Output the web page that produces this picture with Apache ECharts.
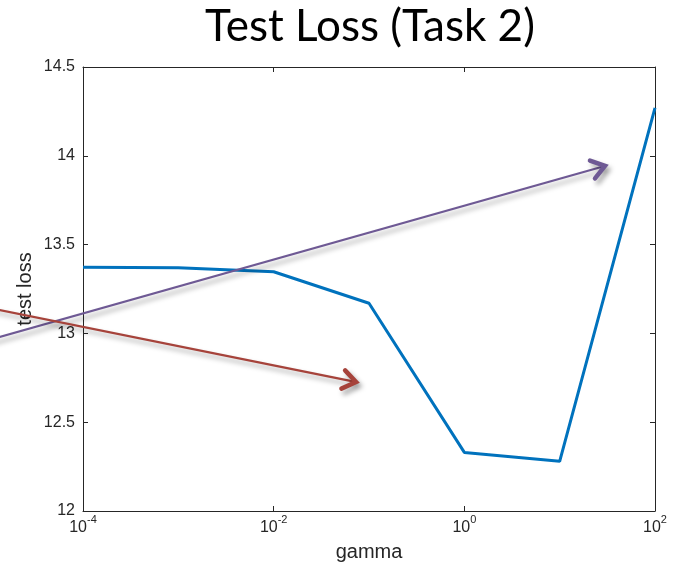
<!DOCTYPE html>
<html>
<head>
<meta charset="utf-8">
<script src="https://cdn.jsdelivr.net/npm/echarts@6/dist/echarts.min.js"></script>
<style>html,body{margin:0;padding:0;background:#fff;}#chart{width:679px;height:562px;}</style>
</head>
<body>
<div id="chart"></div>
<script>
// ---- data ----
const gammaValues = [1e-4, 1e-3, 1e-2, 1e-1, 1, 10, 100];
const testLoss = [13.372, 13.37, 13.347, 13.17, 12.33, 12.28, 14.27];
const xTickExponents = [-4, -2, 0, 2];
const yTicks = [12, 12.5, 13, 13.5, 14, 14.5];
// annotation arrows in data coordinates: [gamma, loss] start -> end
const purpleArrow = [8.3e-6, 12.948, 29.9, 13.943];
const redArrow = [8.3e-6, 13.154, 0.0731, 12.726];

const chart = echarts.init(document.getElementById('chart'));
const axisColor = '#262626';
const tickFont = 'Liberation Sans, Arial, sans-serif';

function arrowSeries(arr, color) {
  return {
    type: 'custom',
    coordinateSystem: 'cartesian2d',
    xAxisIndex: 0, yAxisIndex: 0,
    clip: false,
    silent: true,
    z: 5,
    encode: { x: [0, 2], y: [1, 3] },
    data: [arr],
    renderItem: function (params, api) {
      const p1 = api.coord([api.value(0), api.value(1)]);
      const p2 = api.coord([api.value(2), api.value(3)]);
      const ang = Math.atan2(p2[1] - p1[1], p2[0] - p1[0]);
      const L = 16, spread = 0.62;
      const a1 = [p2[0] - L * Math.cos(ang - spread), p2[1] - L * Math.sin(ang - spread)];
      const a2 = [p2[0] - L * Math.cos(ang + spread), p2[1] - L * Math.sin(ang + spread)];
      const shaftEnd = [p2[0] - 2 * Math.cos(ang), p2[1] - 2 * Math.sin(ang)];
      const shadow = { shadowBlur: 5, shadowOffsetX: 3, shadowOffsetY: 4, shadowColor: 'rgba(0,0,0,0.35)' };
      return {
        type: 'group',
        children: [
          { type: 'line', shape: { x1: p1[0], y1: p1[1], x2: shaftEnd[0], y2: shaftEnd[1] },
            style: Object.assign({ stroke: color, lineWidth: 2.2, fill: null }, shadow) },
          { type: 'polyline', shape: { points: [a1, p2, a2] },
            style: Object.assign({ stroke: color, lineWidth: 4.5, fill: null, lineCap: 'round', lineJoin: 'miter' }, shadow) }
        ]
      };
    }
  };
}

const xLabelRich = {
  b: { fontSize: 16, lineHeight: 16, fontFamily: tickFont, color: '#262626' },
  s: { fontSize: 11, lineHeight: 11, fontFamily: tickFont, color: '#262626', padding: [0, 0, 17, 0] }
};

const option = {
  backgroundColor: '#ffffff',
  animation: false,
  title: {
    text: 'Test Loss (Task 2)',
    left: 365, top: 0, textAlign: 'center',
    textStyle: { fontFamily: 'Lato, Open Sans, sans-serif', fontSize: 44, fontWeight: 'normal', color: '#000' }
  },
  grid: { left: 83, right: 24, top: 67, bottom: 51, containLabel: false, outerBoundsMode: 'none' },
  xAxis: [
    {
      type: 'log', logBase: 10, min: 1e-4, max: 100, interval: 2,
      position: 'bottom',
      name: 'gamma', nameLocation: 'middle', nameGap: 31, nameMoveOverlap: false,
      nameTextStyle: { fontFamily: tickFont, fontSize: 20, color: '#262626', verticalAlign: 'top' },
      axisLine: { show: true, lineStyle: { color: axisColor, width: 1 } },
      axisTick: { show: true, inside: true, length: 5, lineStyle: { color: axisColor } },
      minorTick: { show: false },
      splitLine: { show: false },
      axisLabel: {
        margin: 9,
        formatter: function (v) {
          const e = Math.round(Math.log10(v));
          return xTickExponents.indexOf(e) >= 0 ? '{b|10}{s|' + e + '}' : '';
        },
        rich: xLabelRich
      }
    },
    {
      type: 'log', logBase: 10, min: 1e-4, max: 100, interval: 2,
      position: 'top',
      axisLine: { show: true, lineStyle: { color: axisColor, width: 1 } },
      axisTick: { show: true, inside: true, length: 5, lineStyle: { color: axisColor } },
      axisLabel: { show: false },
      splitLine: { show: false }
    }
  ],
  yAxis: [
    {
      type: 'value', min: yTicks[0], max: yTicks[yTicks.length - 1], interval: 0.5,
      position: 'left',
      name: 'test loss', nameLocation: 'middle', nameGap: 48, nameRotate: 90, nameMoveOverlap: false,
      nameTextStyle: { fontFamily: tickFont, fontSize: 20, color: '#262626' },
      axisLine: { show: true, lineStyle: { color: axisColor, width: 1 } },
      axisTick: { show: true, inside: true, length: 5, lineStyle: { color: axisColor } },
      splitLine: { show: false },
      axisLabel: { margin: 8, fontFamily: tickFont, fontSize: 16, color: '#262626' }
    },
    {
      type: 'value', min: yTicks[0], max: yTicks[yTicks.length - 1], interval: 0.5,
      position: 'right',
      axisLine: { show: true, lineStyle: { color: axisColor, width: 1 } },
      axisTick: { show: true, inside: true, length: 5, lineStyle: { color: axisColor } },
      splitLine: { show: false },
      axisLabel: { show: false }
    }
  ],
  series: [
    {
      type: 'line',
      xAxisIndex: 0, yAxisIndex: 0,
      data: gammaValues.map(function (g, i) { return [g, testLoss[i]]; }),
      showSymbol: false, symbol: 'none',
      lineStyle: { color: '#0072bd', width: 3 },
      z: 3
    },
    arrowSeries(purpleArrow, '#6e5994'),
    arrowSeries(redArrow, '#a6433b')
  ]
};
chart.setOption(option);
</script>
</body>
</html>
